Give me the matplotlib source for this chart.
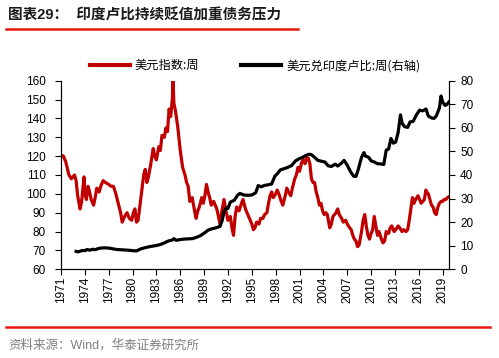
import matplotlib
matplotlib.use('Agg')
import matplotlib.pyplot as plt
from matplotlib.lines import Line2D

plt.rcParams['font.family'] = ['Liberation Sans', 'Noto Sans CJK SC', 'DejaVu Sans']

# 美元指数:周 (左轴)
usd_t = [1971.0, 1971.3, 1971.6, 1972.0, 1972.3, 1972.7, 1972.9, 1973.1, 1973.4, 1973.6,
         1973.9, 1974.0, 1974.2, 1974.4, 1974.6, 1974.8, 1975.1, 1975.3, 1975.5, 1975.8,
         1976.0, 1976.3, 1976.6, 1977.0, 1977.3, 1977.6, 1977.9, 1978.2, 1978.5, 1978.7,
         1979.0, 1979.3, 1979.6, 1979.9, 1980.1, 1980.3, 1980.5, 1980.7, 1981.0, 1981.2,
         1981.4, 1981.6, 1981.8, 1982.0, 1982.3, 1982.6, 1982.8, 1983.0, 1983.3, 1983.5,
         1983.7, 1984.0, 1984.2, 1984.4, 1984.6, 1984.8, 1985.0, 1985.1, 1985.2, 1985.4,
         1985.7, 1986.0, 1986.3, 1986.6, 1986.8, 1987.0, 1987.2, 1987.5, 1987.8, 1988.0,
         1988.2, 1988.4, 1988.7, 1988.9, 1989.1, 1989.3, 1989.5, 1989.7, 1989.9, 1990.2,
         1990.4, 1990.6, 1990.8, 1991.0, 1991.2, 1991.5, 1991.7, 1992.0, 1992.3, 1992.5,
         1992.7, 1992.9, 1993.1, 1993.4, 1993.7, 1993.9, 1994.2, 1994.5, 1994.8, 1995.0,
         1995.2, 1995.4, 1995.6, 1995.9, 1996.1, 1996.4, 1996.6, 1996.9, 1997.1, 1997.3,
         1997.5, 1997.7, 1998.0, 1998.2, 1998.4, 1998.7, 1998.9, 1999.2, 1999.4, 1999.6,
         1999.9, 2000.1, 2000.4, 2000.6, 2000.8, 2001.0, 2001.3, 2001.5, 2001.7, 2001.9,
         2002.1, 2002.3, 2002.5, 2002.7, 2002.9, 2003.1, 2003.3, 2003.5, 2003.7, 2003.9,
         2004.1, 2004.3, 2004.5, 2004.8, 2005.0, 2005.2, 2005.4, 2005.6, 2005.8, 2006.0,
         2006.3, 2006.5, 2006.8, 2007.0, 2007.3, 2007.5, 2007.7, 2007.9, 2008.1, 2008.3,
         2008.5, 2008.8, 2009.0, 2009.2, 2009.4, 2009.6, 2009.8, 2010.0, 2010.2, 2010.4,
         2010.6, 2010.8, 2011.0, 2011.3, 2011.5, 2011.7, 2011.9, 2012.2, 2012.4, 2012.6,
         2012.9, 2013.1, 2013.4, 2013.6, 2013.9, 2014.1, 2014.4, 2014.6, 2014.8, 2015.0,
         2015.2, 2015.4, 2015.6, 2015.9, 2016.1, 2016.3, 2016.5, 2016.7, 2016.9, 2017.0,
         2017.2, 2017.4, 2017.6, 2017.8, 2018.0, 2018.2, 2018.4, 2018.6, 2018.8, 2019.0,
         2019.2, 2019.4, 2019.6, 2019.8]
usd_v = [120.5, 120, 117, 110, 108, 110, 107, 99, 92, 96,
         109, 100, 97, 104, 101, 97, 94, 98, 103, 101,
         104, 107, 106, 105, 104, 104, 100, 95, 90, 85,
         88, 90, 87, 86, 90, 92, 85, 86, 96, 103,
         110, 113, 106, 109, 116, 124, 120, 118, 125, 123,
         131, 130, 135, 133, 145, 141, 150, 160, 148, 144,
         135, 123, 114, 110, 106, 104, 96, 98, 91, 87,
         91, 93, 98, 95, 99, 105, 101, 98, 94, 96,
         94, 92, 88, 84, 90, 97, 92, 86, 88, 82,
         78, 88, 93, 91, 95, 97, 92, 89, 86, 84,
         81, 82, 85, 84, 87, 87, 89, 90, 95, 99,
         101, 98, 100, 102, 100, 96, 94, 99, 103, 101,
         99, 103, 108, 110, 114, 112, 117, 118, 116, 119,
         119, 116, 108, 106, 106, 101, 98, 94, 95, 91,
         89, 90, 89, 82, 84, 88, 89, 90, 92, 89,
         87, 85, 86, 84, 82, 81, 78, 76, 75, 72,
         73, 80, 86, 89, 83, 78, 76, 79, 81, 88,
         83, 78, 80, 76, 74, 75, 80, 79, 82, 83,
         80, 81, 83, 82, 80, 81, 80, 81, 86, 92,
         98, 95, 97, 99, 97, 95, 96, 97, 102, 101,
         100, 97, 94, 93, 90, 89, 93, 95, 96, 96,
         97, 97, 98, 98.5]

# 美元兑印度卢比:周 (右轴)
inr_t = [1972.9, 1973.2, 1973.5, 1973.8, 1974.0, 1974.3, 1974.6, 1975.0, 1975.3, 1975.6,
         1976.0, 1976.5, 1977.0, 1977.5, 1978.0, 1978.5, 1979.0, 1979.5, 1980.0, 1980.5,
         1981.0, 1981.5, 1982.0, 1982.5, 1983.0, 1983.5, 1984.0, 1984.5, 1985.0, 1985.2,
         1985.5, 1986.0, 1986.5, 1987.0, 1987.5, 1988.0, 1988.5, 1989.0, 1989.5, 1990.0,
         1990.5, 1991.0, 1991.3, 1991.5, 1991.8, 1992.0, 1992.3, 1992.8, 1993.2, 1993.5,
         1994.0, 1994.5, 1995.0, 1995.5, 1995.8, 1996.2, 1996.6, 1997.0, 1997.5, 1997.9,
         1998.2, 1998.6, 1999.0, 1999.5, 2000.0, 2000.5, 2000.9, 2001.4, 2001.8, 2002.2,
         2002.5, 2002.9, 2003.3, 2003.8, 2004.2, 2004.6, 2005.0, 2005.5, 2005.8, 2006.2,
         2006.6, 2007.0, 2007.4, 2007.8, 2008.1, 2008.4, 2008.8, 2009.1, 2009.3, 2009.7,
         2010.0, 2010.4, 2010.8, 2011.2, 2011.6, 2011.9, 2012.2, 2012.5, 2012.8, 2013.1,
         2013.4, 2013.7, 2013.9, 2014.2, 2014.6, 2014.9, 2015.3, 2015.7, 2016.1, 2016.5,
         2016.9, 2017.2, 2017.6, 2017.9, 2018.2, 2018.6, 2018.8, 2019.0, 2019.3, 2019.5,
         2019.8]
inr_v = [7.6, 7.4, 7.8, 8.0, 7.9, 8.4, 8.1, 8.5, 8.3, 8.7,
         9.0, 9.1, 9.0, 8.7, 8.4, 8.3, 8.2, 8.1, 7.9, 7.8,
         8.6, 9.1, 9.5, 9.8, 10.1, 10.5, 11.2, 12.0, 12.4, 13.0,
         12.3, 12.6, 12.8, 12.9, 13.0, 13.5, 14.2, 15.3, 16.6, 17.2,
         17.6, 18.2, 21.0, 24.5, 26.0, 25.8, 28.5, 29.3, 31.4, 32.2,
         31.5, 31.4, 31.5, 32.5, 35.5, 35.0, 35.6, 35.8, 36.2, 39.5,
         40.5, 42.2, 42.6, 43.2, 44.0, 46.0, 46.8, 47.5, 48.3, 48.8,
         48.6, 47.5, 46.2, 45.8, 45.5, 43.9, 43.6, 44.6, 43.8, 44.8,
         46.2, 44.2, 41.5, 39.5, 39.4, 42.5, 47.5, 49.5, 48.0, 47.5,
         46.0, 45.5, 44.8, 44.7, 44.5, 50.5, 51.0, 55.5, 53.5, 54.0,
         58.0, 65.5, 62.0, 60.5, 60.2, 62.5, 62.8, 65.5, 67.5, 67.2,
         68.0, 65.0, 64.2, 64.0, 65.0, 68.5, 73.5, 71.0, 69.5, 69.8,
         71.0]

x_ticks = list(range(1971, 2020, 3))
red = '#c00000'

fig = plt.figure(figsize=(4.99, 3.58), dpi=100)
ax = fig.add_axes([0.1222, 0.2478, 0.7776, 0.5268])
ax2 = ax.twinx()

ax.plot(usd_t, usd_v, color=red, lw=2.3, solid_joinstyle='round')
ax2.plot(inr_t, inr_v, color='black', lw=2.3, solid_joinstyle='round')

ax.set_xlim(1971, 2019.8)
ax.set_ylim(60, 160)
ax.set_yticks(range(60, 161, 10))
ax2.set_ylim(0, 80)
ax2.set_yticks(range(0, 81, 10))
ax.set_xticks(x_ticks)
ax.set_xticklabels([str(t) for t in x_ticks], rotation=90)

for a in (ax, ax2):
    a.spines['top'].set_visible(False)
    a.tick_params(direction='out', length=4, width=0.8, labelsize=8.5)
ax.tick_params(axis='y', pad=7)
ax2.tick_params(axis='y', pad=4)
ax.tick_params(axis='x', pad=1.5)

# 图例
h1 = Line2D([], [], color=red, lw=3)
h2 = Line2D([], [], color='black', lw=3)
ax.legend([h1, h2], ['美元指数:周', '美元兑印度卢比:周(右轴)'], ncol=2, frameon=False,
          loc='lower center', bbox_to_anchor=(0.5, 1.0), prop={'family': ['Noto Sans CJK SC'], 'size': 8.8},
          handlelength=3.3, columnspacing=3.4, handletextpad=0.4, borderaxespad=0.3)

# 标题与来源
fig.text(8 / 499, 1 - 15 / 358, '图表29：  印度卢比持续贬值加重债务压力', fontsize=10.5, fontweight='bold',
         va='center', ha='left', family=['Liberation Sans', 'Noto Sans CJK SC'], color='#1a1a1a')
fig.add_artist(Line2D([6 / 499, 298 / 499], [1 - 29 / 358, 1 - 29 / 358], color='#e8170c', lw=1.8))
fig.add_artist(Line2D([6 / 499, 490 / 499], [1 - 327 / 358, 1 - 327 / 358], color='#e8170c', lw=1.8))
fig.text(8 / 499, 1 - 345 / 358, '资料来源：Wind，华泰证券研究所', fontsize=9, color='#808080',
         va='center', ha='left', family=['Liberation Sans', 'Noto Sans CJK SC'])

fig.savefig('out.png', dpi=100)
plt.close(fig)
